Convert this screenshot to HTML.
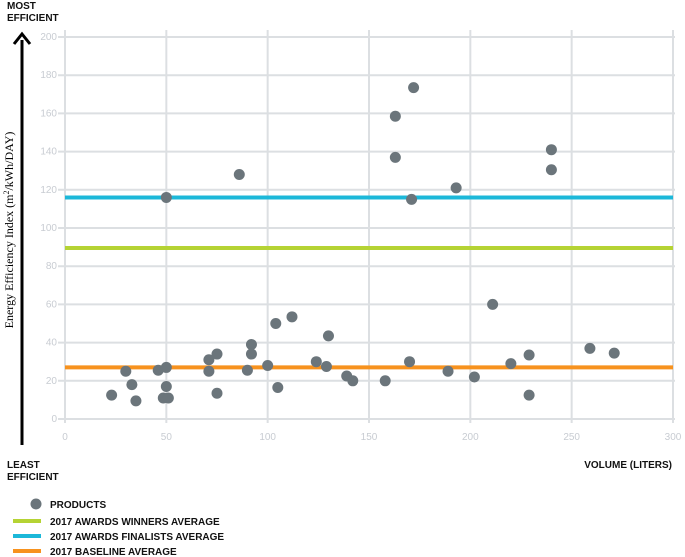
<!DOCTYPE html>
<html><head><meta charset="utf-8"><style>
body{margin:0;background:#fff;width:685px;height:557px;overflow:hidden;font-family:"Liberation Sans",sans-serif}
svg{display:block}
</style></head><body>
<svg width="685" height="557" viewBox="0 0 685 557">
<g id="grid"></g>
<g id="ticks" font-size="10" fill="#c8ccd2"></g>
<g id="avg"></g>
<g id="dots"></g>
<g>
<line x1="22" y1="445" x2="22" y2="40" stroke="#000" stroke-width="3"/>
<polyline points="14,44 22,34 30,44" fill="none" stroke="#000" stroke-width="3"/>
</g>
<text transform="translate(13,230) rotate(-90)" text-anchor="middle" font-family="Liberation Serif,serif" font-size="12" fill="#000">Energy Efficiency Index (m<tspan font-size="8" dy="-4">2</tspan><tspan dy="4">/kWh/DAY)</tspan></text>
<g font-size="10" font-weight="bold" fill="#111">
<text x="7" y="9">MOST</text>
<text x="7" y="21">EFFICIENT</text>
<text x="7" y="468">LEAST</text>
<text x="7" y="480">EFFICIENT</text>
<text x="672" y="468" text-anchor="end">VOLUME (LITERS)</text>
</g>
<g font-size="10" font-weight="bold" fill="#111">
<circle cx="36" cy="504" r="5.5" fill="#6b757b"/>
<text x="50" y="508">PRODUCTS</text>
<rect x="13" y="519" width="28" height="4" fill="#b5d334"/>
<text x="50" y="525">2017 AWARDS WINNERS AVERAGE</text>
<rect x="13" y="534" width="28" height="4" fill="#1cb8d9"/>
<text x="50" y="540">2017 AWARDS FINALISTS AVERAGE</text>
<rect x="13" y="549" width="28" height="4" fill="#f7921e"/>
<text x="50" y="555">2017 BASELINE AVERAGE</text>
</g>
</svg>
<script>
const xTicks=[0,50,100,150,200,250,300];
const yTicks=[0,20,40,60,80,100,120,140,160,180,200];
const productVolume=[23,30,33,35,46,50,50,48.5,51,50,71,71,75,75,90,92,92,100,105,86,104,112,124,129,130,139,142,158,163,163,172,171,170,189,193,202,211,220,229,229,240,240,259,271];
const productEEI=[12.5,25,18,9.5,25.5,27,17,11,11,116,31,25,34,13.5,25.5,39,34,28,16.5,128,50,53.5,30,27.5,43.5,22.5,20,20,158.5,137,173.5,115,30,25,121,22,60,29,33.5,12.5,141,130.5,37,34.5];
const averageNames=['winners-average-line','finalists-average-line','baseline-average-line'];
const averageValues=[89.5,116,27];
const averageColors=['#b5d334','#1cb8d9','#f7921e'];
const NS='http://www.w3.org/2000/svg';
const X=v=>65+v*(673-65)/300;
const Y=v=>419-v*(419-37)/200;
function mk(t,a,p){const e=document.createElementNS(NS,t);for(const k in a)e.setAttribute(k,a[k]);p.appendChild(e);return e;}
const grid=document.getElementById('grid'),ticks=document.getElementById('ticks');
xTicks.forEach(v=>{
 const l=mk('line',{x1:X(v),x2:X(v),y1:30,y2:423,stroke:'#dcdfe2','stroke-width':2},grid);
 
 
 const t=mk('text',{x:X(v),y:440,'text-anchor':'middle'},ticks);t.textContent=v;
 
 
});
yTicks.forEach(v=>{
 const l=mk('line',{x1:58,x2:675,y1:Y(v),y2:Y(v),stroke:'#dcdfe2','stroke-width':2},grid);
 
 
 const t=mk('text',{x:57,y:Y(v)+3,'text-anchor':'end'},ticks);t.textContent=v;
 
 
});
const avg=document.getElementById('avg');
averageValues.forEach((v,i)=>{
 const l=mk('line',{x1:65,x2:673,y1:Y(v),y2:Y(v),stroke:averageColors[i],'stroke-width':4},avg);
 
 
});
const dots=document.getElementById('dots');
productVolume.forEach((v,i)=>{
 const c=mk('circle',{cx:X(v),cy:Y(productEEI[i]),r:5.5,fill:'#6b757b'},dots);
 
 
});
</script>
</body></html>
